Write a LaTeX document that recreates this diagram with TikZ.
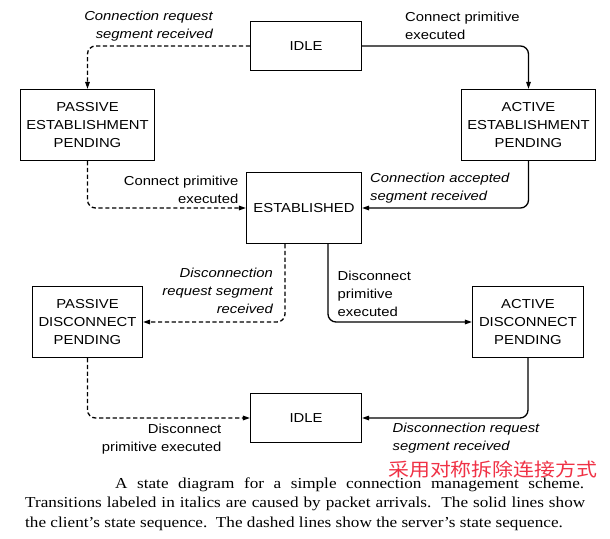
\documentclass[tikz,border=0pt]{standalone}
\usepackage{fontspec}
\usetikzlibrary{arrows.meta}
\newfontfamily\lab[FakeStretch=1.14]{Liberation Sans}
\newfontfamily\capfont[FakeStretch=1.13]{Liberation Serif}
\newfontfamily\cjk[FakeStretch=1.13]{Noto Sans CJK SC}
\definecolor{cnred}{RGB}{240,50,70}
\tikzset{
  state/.style={draw, line width=1.1pt, inner sep=0pt, align=center,
    font=\lab\fontsize{13}{18}\selectfont},
  lbl/.style={inner sep=0pt, font=\lab\fontsize{13}{18}\selectfont},
  conn/.style={line width=1.3pt, rounded corners=8pt,
    -{Triangle[length=7pt,width=4.5pt]}},
  srv/.style={conn, dash pattern=on 4.2pt off 2.6pt},
  capline/.style={inner sep=0pt, anchor=base west,
    font=\capfont\fontsize{15.2}{19.5}\selectfont},
}
\begin{document}
\begin{tikzpicture}[x=1pt,y=-1pt]
\useasboundingbox (0,0) rectangle (610,538);
\fill[white] (0,0) rectangle (610,538);

% states
\node[state, minimum width=111pt, minimum height=49pt] (idleA) at (306,46) {IDLE};
\node[state, minimum width=134pt, minimum height=71pt] (pep) at (87.5,125) {PASSIVE\\ESTABLISHMENT\\PENDING};
\node[state, minimum width=134pt, minimum height=71pt] (aep) at (528.5,125) {ACTIVE\\ESTABLISHMENT\\PENDING};
\node[state, minimum width=115pt, minimum height=71pt] (est) at (304,208) {ESTABLISHED};
\node[state, minimum width=110pt, minimum height=71pt] (pdp) at (87.5,322) {PASSIVE\\DISCONNECT\\PENDING};
\node[state, minimum width=111pt, minimum height=71pt] (adp) at (528,322) {ACTIVE\\DISCONNECT\\PENDING};
\node[state, minimum width=111pt, minimum height=49pt] (idleB) at (306,418) {IDLE};

% connectors
\draw[srv] (idleA.west) -| (pep.north);
\draw[conn] (idleA.east) -| (aep.north);
\draw[srv] (pep.south) |- (est.west);
\draw[conn] (aep.south) |- (est.east);
\draw[srv] ([xshift=-19pt]est.south) |- (pdp.east);
\draw[conn] ([xshift=24pt]est.south) |- (adp.west);
\draw[srv] (pdp.south) |- (idleB.west);
\draw[conn] (adp.south) |- (idleB.east);

% transition labels
\node[lbl, anchor=east, align=right] (l1) at (213,26) {\itshape Connection request\\\itshape segment received};
\node[lbl, anchor=west, align=left] (l2) at (405,26) {Connect primitive\\executed};
\node[lbl, anchor=east, align=right] (l3) at (238.5,190) {Connect primitive\\executed};
\node[lbl, anchor=west, align=left] (l4) at (370,188.5) {\itshape Connection accepted\\\itshape segment received};
\node[lbl, anchor=east, align=right] (l5) at (273,291) {\itshape Disconnection\\\itshape request segment\\\itshape received};
\node[lbl, anchor=west, align=left] (l6) at (337.5,294) {Disconnect\\primitive\\executed};
\node[lbl, anchor=east, align=right] (l7) at (221.5,439) {Disconnect\\primitive executed};
\node[lbl, anchor=west, align=left] (l8) at (392.5,438) {\itshape Disconnection request\\\itshape segment received};

% red note
\node[inner sep=0pt, anchor=west, text=cnred, font=\cjk\fontsize{18.5}{20}\selectfont] (note) at (388,469.3) {采用对称拆除连接方式};

% caption
\node[capline] (cap1) at (115,488) {\makebox[469pt][s]{A state diagram for a simple connection management scheme.}};
\node[capline] (cap2) at (25,507.6) {\makebox[560pt][s]{Transitions labeled in italics are caused by packet arrivals.\ \ The solid lines show}};
\node[capline] (cap3) at (25,527.3) {the client’s state sequence.\ \ The dashed lines show the server’s state sequence.};
\end{tikzpicture}
\end{document}
